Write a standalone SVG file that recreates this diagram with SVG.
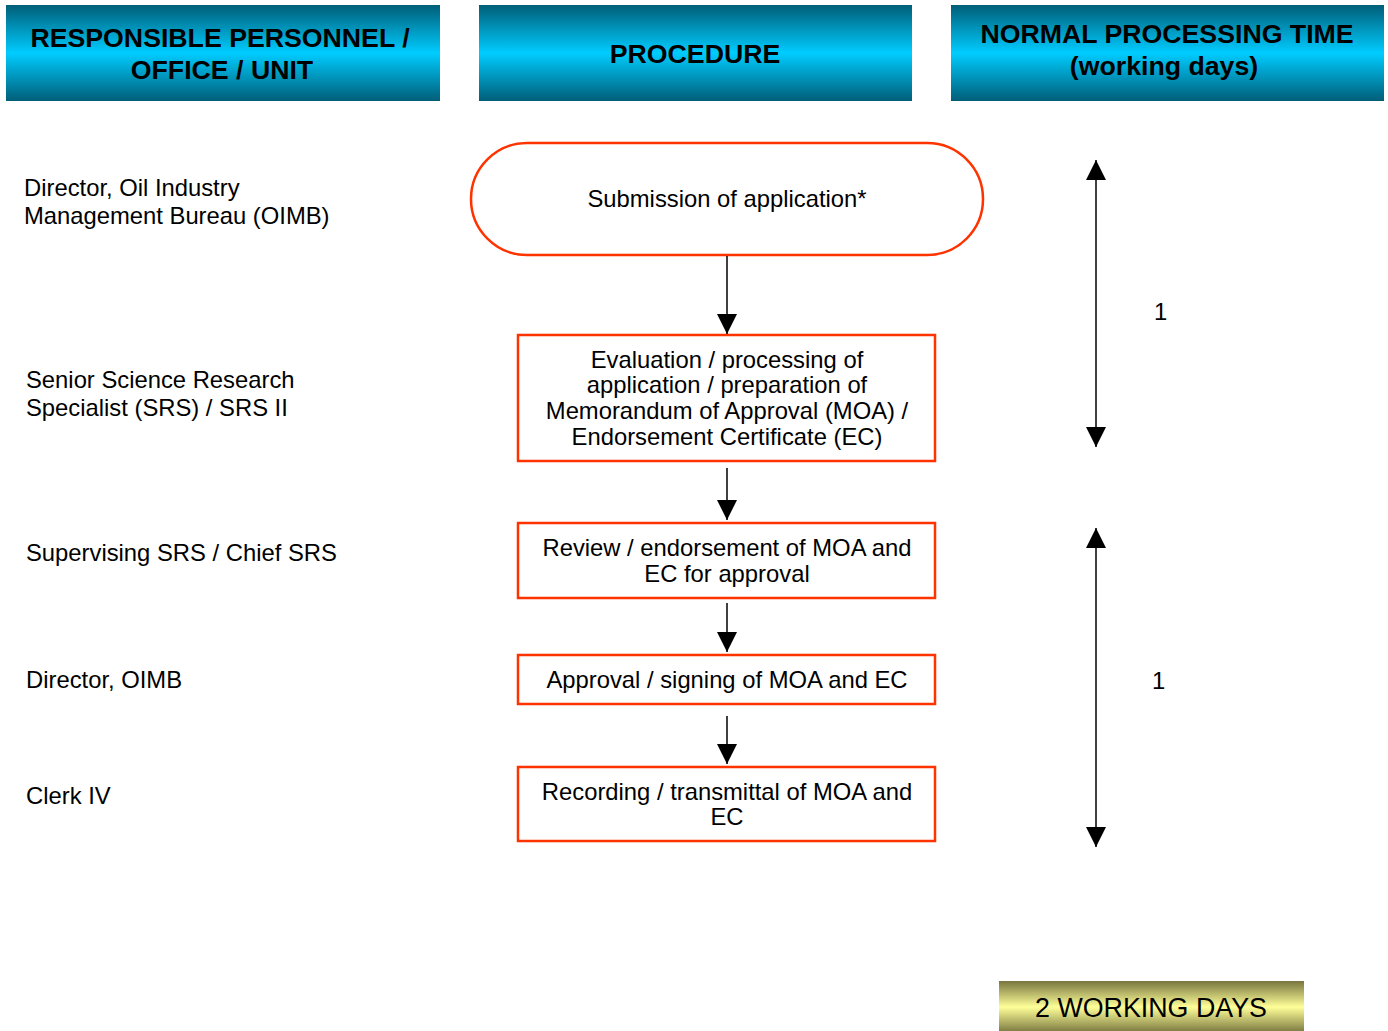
<svg xmlns="http://www.w3.org/2000/svg" width="1388" height="1031" viewBox="0 0 1388 1031">
<style>
text{font-family:"Liberation Sans",Arial,sans-serif;fill:#000}
.h{font-size:26.7px;font-weight:bold;text-anchor:middle}
.t{font-size:23.8px}
.c{text-anchor:middle}
.box{fill:#fff;stroke:#ff3300;stroke-width:2.5}
.ln{stroke:#000;stroke-width:1.5;fill:none}
</style>
<defs>
<linearGradient id="hg" x1="0" y1="0" x2="0" y2="1">
<stop offset="0" stop-color="#005e78"/>
<stop offset="0.5" stop-color="#00ccff"/>
<stop offset="1" stop-color="#005e78"/>
</linearGradient>
<linearGradient id="yg" x1="0" y1="0" x2="0" y2="1">
<stop offset="0" stop-color="#77753e"/>
<stop offset="0.5" stop-color="#ffff99"/>
<stop offset="1" stop-color="#77753e"/>
</linearGradient>
<marker id="ah" viewBox="0 0 20 20" refX="20" refY="10" markerWidth="20" markerHeight="20" markerUnits="userSpaceOnUse" orient="auto-start-reverse">
<path d="M0,0L20,10L0,20Z" fill="#000"/>
</marker>
</defs>
<g id="header1"><rect x="6" y="5" width="434" height="96" fill="url(#hg)"/><text class="h" x="220" y="47">RESPONSIBLE PERSONNEL /</text><text class="h" x="222" y="79">OFFICE / UNIT</text></g>
<g id="header2"><rect x="479" y="5" width="433" height="96" fill="url(#hg)"/><text class="h" x="695" y="63">PROCEDURE</text></g>
<g id="header3"><rect x="951" y="5" width="433" height="96" fill="url(#hg)"/><text class="h" x="1167" y="43">NORMAL PROCESSING TIME</text><text class="h" x="1164" y="75">(working days)</text></g>

<g id="role1"><text class="t" x="24" y="196">Director, Oil Industry</text><text class="t" x="24" y="224">Management Bureau (OIMB)</text></g>
<g id="role2"><text class="t" x="26" y="388">Senior Science Research</text><text class="t" x="26" y="416">Specialist (SRS) / SRS II</text></g>
<g id="role3"><text class="t" x="26" y="561">Supervising SRS / Chief SRS</text></g>
<g id="role4"><text class="t" x="26" y="688">Director, OIMB</text></g>
<g id="role5"><text class="t" x="26" y="804">Clerk IV</text></g>

<g id="step1"><rect class="box" x="471" y="143" width="512" height="112" rx="56" ry="56"/><text class="t c" x="727" y="207">Submission of application*</text></g>
<g id="step2"><rect class="box" x="518" y="335" width="417" height="126"/>
<text class="t c" x="727" y="368">Evaluation / processing of</text>
<text class="t c" x="727" y="393">application / preparation of</text>
<text class="t c" x="727" y="419">Memorandum of Approval (MOA) /</text>
<text class="t c" x="727" y="445">Endorsement Certificate (EC)</text></g>
<g id="step3"><rect class="box" x="518" y="523" width="417" height="75"/>
<text class="t c" x="727" y="556">Review / endorsement of MOA and</text>
<text class="t c" x="727" y="582">EC for approval</text></g>
<g id="step4"><rect class="box" x="518" y="655" width="417" height="49"/>
<text class="t c" x="727" y="688">Approval / signing of MOA and EC</text></g>
<g id="step5"><rect class="box" x="518" y="767" width="417" height="74"/>
<text class="t c" x="727" y="800">Recording / transmittal of MOA and</text>
<text class="t c" x="727" y="825">EC</text></g>

<g id="time1"><text class="t" x="1154" y="320">1</text></g>
<g id="time2"><text class="t" x="1152" y="689">1</text></g>
<g id="total"><rect x="999" y="981" width="305" height="52" fill="url(#yg)"/><text class="c" x="1151" y="1017" style="font-size:26.8px">2 WORKING DAYS</text></g>

<g id="connectors">
<line class="ln" x1="727" y1="256" x2="727" y2="334" marker-end="url(#ah)"/>
<line class="ln" x1="727" y1="468" x2="727" y2="520" marker-end="url(#ah)"/>
<line class="ln" x1="727" y1="603" x2="727" y2="652" marker-end="url(#ah)"/>
<line class="ln" x1="727" y1="716" x2="727" y2="764" marker-end="url(#ah)"/>
<line class="ln" x1="1096" y1="160" x2="1096" y2="447" marker-start="url(#ah)" marker-end="url(#ah)"/>
<line class="ln" x1="1096" y1="528" x2="1096" y2="847" marker-start="url(#ah)" marker-end="url(#ah)"/>
</g>
</svg>
